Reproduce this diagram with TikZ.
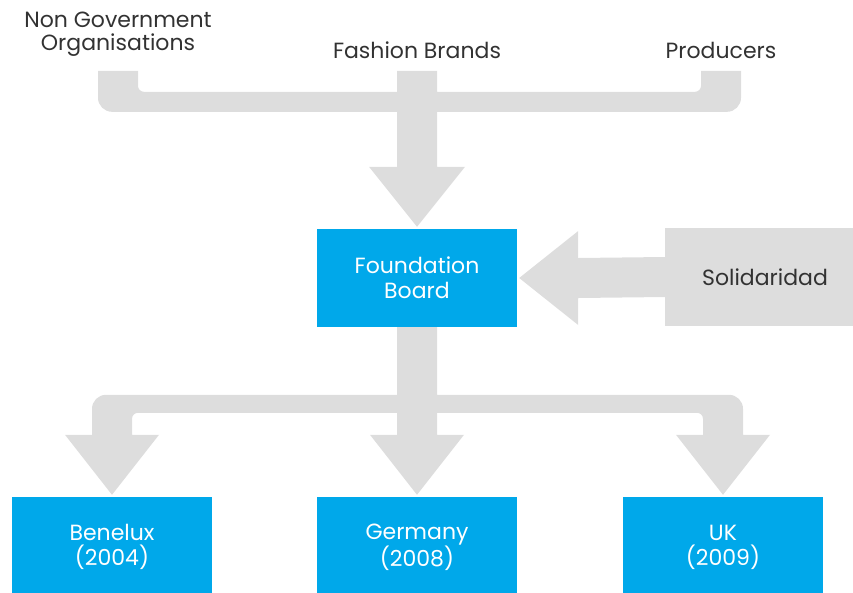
\documentclass[tikz,border=0pt]{standalone}
\usepackage{fontspec}
\setmainfont{Poppins}
\usepackage{xcolor}
\usetikzlibrary{calc}

\definecolor{boardblue}{RGB}{0,168,234}
\definecolor{bandgray}{RGB}{221,221,221}
\definecolor{labelgray}{RGB}{50,50,50}

\tikzset{
  party/.style={text=labelgray, align=center, inner sep=0pt, font=\fontsize{22}{23}\selectfont},
  bluebox/.style={fill=boardblue, text=white, align=center, inner sep=0pt,
    minimum width=200pt, minimum height=98pt, font=\fontsize{22}{25}\selectfont},
  graybox/.style={fill=bandgray, text=labelgray, align=center, inner sep=0pt,
    minimum width=200pt, minimum height=98pt, font=\fontsize{22}{25}\selectfont},
  band/.style={fill=bandgray, draw=none},
}

\begin{document}
\begin{tikzpicture}[x=1pt,y=1pt,yscale=-1,xscale=1]
\useasboundingbox (0,0) rectangle (853,592);

% Text Nodes (members)
\node[party] (ngo) at (118,34) {Non Government\\Organisations};
\node[party] (fashion) at (417,50) {Fashion Brands};
\node[party] (producers) at (721,50) {Producers};

% Boxes
\node[bluebox] (board) at (417,278) {Foundation\\Board};
\node[graybox] (solid) at (765,277) {Solidaridad};
\node[bluebox, minimum height=100pt] (benelux) at (112,547) {Benelux\\(2004)};
\node[bluebox, minimum height=100pt] (germany) at (417,547) {Germany\\(2008)};
\node[bluebox, minimum height=100pt] (uk) at (723,547) {UK\\(2009)};

% Upper bracket into the board
\fill[band]
  ($(ngo.south |- board.north)+(-20,-158)$) -- ($(ngo.south |- board.north)+(20,-158)$)
  [rounded corners=6pt] -- ($(ngo.south |- board.north)+(20,-137)$)
  [sharp corners] -- ($(fashion.south |- board.north)+(-20,-137)$)
  -- ($(fashion.south |- board.north)+(-20,-158)$) -- ($(fashion.south |- board.north)+(20,-158)$)
  -- ($(fashion.south |- board.north)+(20,-137)$)
  [rounded corners=6pt] -- ($(producers.south |- board.north)+(-20,-137)$)
  [sharp corners] -- ($(producers.south |- board.north)+(-20,-158)$)
  -- ($(producers.south |- board.north)+(20,-158)$)
  [rounded corners=14pt] -- ($(producers.south |- board.north)+(20,-117)$)
  [sharp corners] -- ($(board.north)+(20,-117)$)
  -- ($(board.north)+(20,-62)$) -- ($(board.north)+(48,-62)$)
  -- ($(board.north)+(0,-2)$)
  -- ($(board.north)+(-48,-62)$) -- ($(board.north)+(-20,-62)$)
  -- ($(board.north)+(-20,-117)$)
  [rounded corners=14pt] -- ($(ngo.south |- board.north)+(-20,-117)$)
  [sharp corners] -- cycle;

% Solidaridad into the board
\fill[band]
  ($(solid.west)+(0,-20)$) -- ($(board.east)+(61,-20)$) -- ($(board.east)+(61,-47)$)
  -- ($(board.east)+(2,0)$)
  -- ($(board.east)+(61,47)$) -- ($(board.east)+(61,20)$) -- ($(solid.west)+(0,20)$) -- cycle;

% Lower bracket out of the board
\fill[band]
  ($(board.south)+(-20,0)$)
  -- ($(germany.north)+(-20,-102)$)
  [rounded corners=14pt] -- ($(benelux.north)+(-20,-102)$)
  [sharp corners] -- ($(benelux.north)+(-20,-62)$) -- ($(benelux.north)+(-47,-62)$)
  -- ($(benelux.north)+(0,-2)$)
  -- ($(benelux.north)+(47,-62)$) -- ($(benelux.north)+(20,-62)$)
  [rounded corners=6pt] -- ($(benelux.north)+(20,-84)$)
  [sharp corners] -- ($(germany.north)+(-20,-84)$)
  -- ($(germany.north)+(-20,-62)$) -- ($(germany.north)+(-47,-62)$)
  -- ($(germany.north)+(0,-2)$)
  -- ($(germany.north)+(47,-62)$) -- ($(germany.north)+(20,-62)$)
  -- ($(germany.north)+(20,-84)$)
  [rounded corners=6pt] -- ($(uk.north)+(-20,-84)$)
  [sharp corners] -- ($(uk.north)+(-20,-62)$) -- ($(uk.north)+(-47,-62)$)
  -- ($(uk.north)+(0,-2)$)
  -- ($(uk.north)+(47,-62)$) -- ($(uk.north)+(20,-62)$)
  [rounded corners=14pt] -- ($(uk.north)+(20,-102)$)
  [sharp corners] -- ($(germany.north)+(20,-102)$)
  -- ($(board.south)+(20,0)$) -- cycle;

\end{tikzpicture}
\end{document}
